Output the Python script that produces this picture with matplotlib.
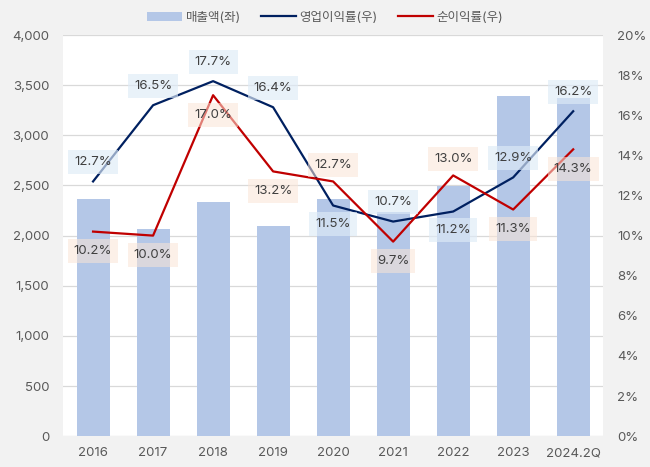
import numpy as np
import matplotlib.pyplot as plt
from matplotlib.ticker import FuncFormatter

plt.rcParams['font.family'] = ['Inter', 'Noto Sans CJK KR', 'DejaVu Sans']

years = ['2016', '2017', '2018', '2019', '2020', '2021', '2022', '2023', '2024.2Q']
sales = [2360, 2070, 2340, 2100, 2360, 2240, 2490, 3390, 3370]
op_margin = [12.7, 16.5, 17.7, 16.4, 11.5, 10.7, 11.2, 12.9, 16.2]
net_margin = [10.2, 10.0, 17.0, 13.2, 12.7, 9.7, 13.0, 11.3, 14.3]
op_above = [True, True, True, True, False, True, False, True, True]
net_above = [False, False, False, False, True, False, True, False, False]

bar_c = '#b4c7e7'
op_c = '#002060'
net_c = '#c00000'
txt_c = '#595959'

fig = plt.figure(figsize=(6.5, 4.67), dpi=100, facecolor='#f2f2f2')
ax = fig.add_axes([0.097, 0.066, 0.831, 0.859])
ax.set_facecolor('white')
x = np.arange(len(years))

ax.bar(x, sales, width=0.55, color=bar_c, label='매출액(좌)', zorder=2)
ax.set_ylim(0, 4000)
ax.set_xlim(-0.5, len(years) - 0.5)
ax.set_yticks(np.arange(0, 4001, 500))
ax.yaxis.set_major_formatter(FuncFormatter(lambda v, p: f'{int(v):,}'))
ax.grid(axis='y', color='#d9d9d9', linewidth=0.9, zorder=0)
ax.set_axisbelow(True)
ax.set_xticks(x)
ax.set_xticklabels(years)
for s in ax.spines.values():
    s.set_visible(False)
ax.tick_params(length=0, colors=txt_c, labelsize=9.5, pad=8)
ax.tick_params(axis='y', pad=10)

ax2 = ax.twinx()
ax2.set_ylim(0, 20)
ax2.set_yticks(np.arange(0, 21, 2))
ax2.yaxis.set_major_formatter(FuncFormatter(lambda v, p: f'{int(v)}%'))
for s in ax2.spines.values():
    s.set_visible(False)
ax2.tick_params(length=0, colors=txt_c, labelsize=9.5, pad=10)

ax2.plot(x, op_margin, color=op_c, linewidth=1.6, label='영업이익률(우)', zorder=3)
ax2.plot(x, net_margin, color=net_c, linewidth=1.6, label='순이익률(우)', zorder=3)

for i in range(len(years)):
    dy = 14 if op_above[i] else -13
    ax2.annotate(f'{op_margin[i]:.1f}%', (x[i], op_margin[i]), xytext=(0, dy),
                 textcoords='offset points', ha='center', va='center',
                 fontsize=9.5, color='#404040', zorder=4,
                 bbox=dict(boxstyle='square,pad=0.45', fc='#deebf7', ec='none', alpha=0.65))
    dy = 12 if net_above[i] else -14
    ax2.annotate(f'{net_margin[i]:.1f}%', (x[i], net_margin[i]), xytext=(0, dy),
                 textcoords='offset points', ha='center', va='center',
                 fontsize=9.5, color='#404040', zorder=4,
                 bbox=dict(boxstyle='square,pad=0.45', fc='#fbe5d6', ec='none', alpha=0.55))

h1, l1 = ax.get_legend_handles_labels()
h2, l2 = ax2.get_legend_handles_labels()
fig.legend(h1 + h2, l1 + l2, loc='center', bbox_to_anchor=(0.5, 0.962), ncol=3,
           frameon=False, fontsize=9, labelcolor=txt_c, handlelength=2.8,
           columnspacing=1.6, handletextpad=0.3)

fig.savefig('out.png', dpi=100, facecolor=fig.get_facecolor())
